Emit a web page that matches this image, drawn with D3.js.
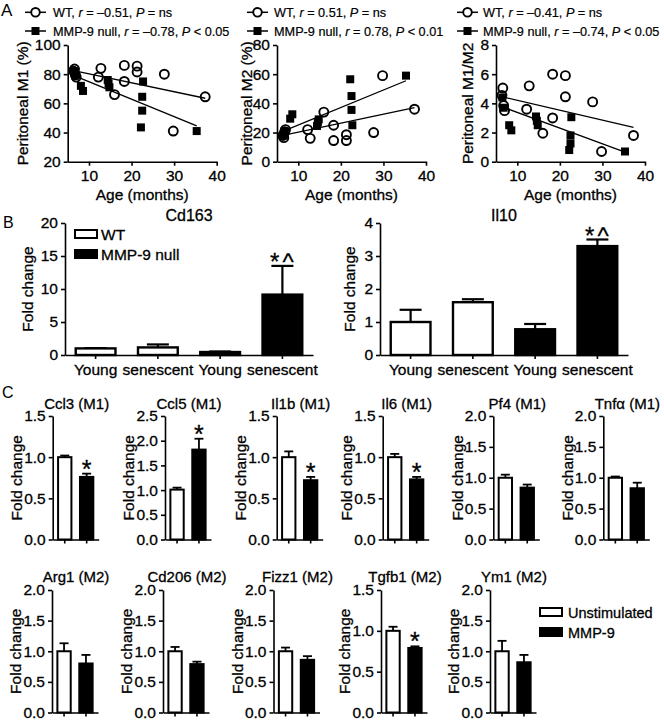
<!DOCTYPE html>
<html><head><meta charset="utf-8">
<script src="https://cdn.jsdelivr.net/npm/d3@7"></script>
<style>body{margin:0;background:#fff}svg{display:block}</style>
</head><body><script>
// ---------- DATA ----------
// Panel A
const ageTicks = [10, 20, 30, 40];
const ageDomain = [5, 40];
const wtAge  = [6.4, 6.6, 6.8, 7.0, 12.2, 12.8, 16.0, 18.3, 18.3, 21.3, 21.3, 27.7, 29.8, 37.3];
const wtM1   = [82, 83.5, 79.5, 78, 78, 84, 66, 86, 75, 85.5, 81.5, 80, 41, 64.5];
const wtM2   = [18, 16.5, 20.5, 22, 22, 16, 34, 14.5, 25, 14.5, 18.5, 20, 59, 36];
const wtRat  = [4.55, 5.05, 3.85, 3.5, 3.6, 5.2, 1.95, 6.0, 3.0, 5.9, 4.45, 4.1, 0.7, 1.8];
const mmpAge = [6.5, 6.8, 8.1, 8.6, 14.4, 14.6, 14.8, 22.2, 22.5, 22.5, 22.7, 35.3];
const mmpM1  = [82, 79, 72, 68.5, 76, 73.5, 71, 43.5, 55, 64.5, 75, 41];
const mmpM2  = [18, 21, 29.5, 32.5, 24.5, 27, 29, 56.5, 45, 35.5, 25, 59];
const mmpRat = [4.4, 3.7, 2.5, 2.15, 3.1, 2.8, 2.5, 0.8, 1.25, 1.8, 3.05, 0.7];
const wtFitM1  = [[6.4, 82.5], [37.3, 63.5]];
const mmpFitM1 = [[6.5, 79], [35.3, 44.5]];
const wtFitM2  = [[6.4, 18], [37.3, 37]];
const mmpFitM2 = [[6.5, 21], [35.3, 55.5]];
const wtFitRat  = [[6.4, 4.45], [37.3, 2.35]];
const mmpFitRat = [[6.5, 3.75], [35.3, 0.65]];
const wtR  = ['–0.51', '0.51', '–0.41'];
const wtP  = ['= ns', '= ns', '= ns'];
const mmpR = ['–0.78', '0.78', '–0.74'];
const mmpP = ['< 0.05', '< 0.01', '< 0.05'];
const m1Ticks = [20, 40, 60, 80, 100];
const m2Ticks = [0, 20, 40, 60, 80];
const ratTicks = [0, 2, 4, 6, 8];

// Panel B
const bGroups = ['Young', 'senescent', 'Young', 'senescent'];
const bGenotype = ['WT', 'WT', 'MMP-9 null', 'MMP-9 null'];
const cd163Mean = [1.0, 1.15, 0.45, 9.15];
const cd163Err  = [0.05, 0.45, 0.08, 4.35];
const il10Mean  = [1.0, 1.6, 0.78, 3.3];
const il10Err   = [0.37, 0.09, 0.16, 0.2];
const cd163Ticks = [0, 5, 10, 15, 20];
const il10Ticks  = [0, 1, 2, 3, 4];
const bSig = [false, false, false, true];

// Panel C
const cGenes   = ['Ccl3 (M1)', 'Ccl5 (M1)', 'Il1b (M1)', 'Il6 (M1)', 'Pf4 (M1)', 'Tnfα (M1)',
                  'Arg1 (M2)', 'Cd206 (M2)', 'Fizz1 (M2)', 'Tgfb1 (M2)', 'Ym1 (M2)'];
const cYMax    = [1.5, 2.5, 1.5, 1.5, 2.0, 2.0, 2.0, 2.0, 2.0, 1.5, 2.0];
const unstimMean = [1.0, 1.01, 1.0, 1.0, 1.0, 1.0, 1.0, 1.0, 1.0, 1.0, 1.0];
const unstimErr  = [0.02, 0.04, 0.07, 0.04, 0.05, 0.02, 0.13, 0.07, 0.06, 0.05, 0.17];
const mmp9Mean   = [0.76, 1.82, 0.72, 0.73, 0.84, 0.83, 0.80, 0.79, 0.86, 0.79, 0.82];
const mmp9Err    = [0.04, 0.22, 0.04, 0.03, 0.05, 0.09, 0.14, 0.04, 0.06, 0.02, 0.12];
const cSig       = [true, true, true, true, false, false, false, false, false, true, false];
const cLegend    = ['Unstimulated', 'MMP-9'];

// ---------- DRAWING ----------
const FONT = '"Liberation Sans", Arial, Helvetica, sans-serif';
const FS = 15.5;
const W = 664, H = 720;
const svg = d3.select('body').append('svg').attr('width', W).attr('height', H);
svg.append('rect').attr('width', W).attr('height', H).attr('fill', '#fff');

function txt(x, y, s, size, anchor = 'start', rot = 0) {
  const t = svg.append('text').attr('x', x).attr('y', y).text(s)
    .attr('font-family', FONT).attr('font-size', size).attr('fill', '#000')
    .attr('stroke', '#000').attr('stroke-width', 0.3)
    .attr('text-anchor', anchor);
  if (rot) t.attr('transform', `rotate(${rot},${x},${y})`);
  return t;
}
function styleAxis(g, fs, sw = 1.6) {
  g.selectAll('path,line').attr('stroke', '#000').attr('stroke-width', sw);
  g.selectAll('text').attr('font-size', fs).attr('font-family', FONT).attr('fill', '#000')
    .attr('stroke', '#000').attr('stroke-width', 0.3);
}

// Panel letters
txt(1, 16, 'A', 17).attr('stroke-width', 0);
txt(3, 228, 'B', 16).attr('stroke-width', 0);
txt(2, 398, 'C', 16).attr('stroke-width', 0);

// ---- Panel A ----
const aX0 = [67.7, 277, 496];
const aTop = 45, aBot = 161.7, aW = 149;
const aYLabX = [23, 247, 468];
const aLegX = [25, 247, 457];
const aTxtX = [53, 274, 483];
const aSets = [
  { dom: [20, 100], ticks: m1Ticks, label: 'Peritoneal M1 (%)', wt: wtM1, mmp: mmpM1, wtFit: wtFitM1, mmpFit: mmpFitM1 },
  { dom: [0, 80], ticks: m2Ticks, label: 'Peritoneal M2 (%)', wt: wtM2, mmp: mmpM2, wtFit: wtFitM2, mmpFit: mmpFitM2 },
  { dom: [0, 8], ticks: ratTicks, label: 'Peritoneal M1/M2', wt: wtRat, mmp: mmpRat, wtFit: wtFitRat, mmpFit: mmpFitRat }
];
aSets.forEach((s, i) => {
  const x0 = aX0[i];
  const x = d3.scaleLinear().domain(ageDomain).range([x0, x0 + aW]);
  const y = d3.scaleLinear().domain(s.dom).range([aBot, aTop]);
  const gx = svg.append('g').attr('transform', `translate(0,${aBot})`)
    .call(d3.axisBottom(x).tickValues(ageTicks).tickSize(4).tickSizeOuter(0).tickPadding(4.5));
  styleAxis(gx, FS);
  const gy = svg.append('g').attr('transform', `translate(${x0},0)`)
    .call(d3.axisLeft(y).tickValues(s.ticks).tickFormat(d3.format('d')).tickSize(4).tickSizeOuter(0).tickPadding(3));
  styleAxis(gy, FS);
  const line = d3.line().x(d => x(d[0])).y(d => y(d[1]));
  [s.wtFit, s.mmpFit].forEach(f => svg.append('path').attr('d', line(f))
    .attr('stroke', '#000').attr('stroke-width', 1.3).attr('fill', 'none'));
  svg.append('g').selectAll('circle').data(wtAge.map((a, j) => [a, s.wt[j]])).join('circle')
    .attr('cx', d => x(d[0])).attr('cy', d => y(d[1])).attr('r', 4.5)
    .attr('fill', 'none').attr('stroke', '#000').attr('stroke-width', 1.9);
  svg.append('g').selectAll('rect').data(mmpAge.map((a, j) => [a, s.mmp[j]])).join('rect')
    .attr('x', d => x(d[0]) - 4).attr('y', d => y(d[1]) - 4).attr('width', 8).attr('height', 8)
    .attr('fill', '#000');
  txt(x0 + aW / 2, 200, 'Age (months)', FS, 'middle');
  txt(aYLabX[i], (aTop + aBot) / 2, s.label, FS, 'middle', -90).attr('dy', '0.35em');
  // legend
  const lx = aLegX[i];
  [12.3, 31].forEach((ly, k) => {
    svg.append('line').attr('x1', lx).attr('x2', lx + 21).attr('y1', ly).attr('y2', ly)
      .attr('stroke', '#000').attr('stroke-width', 1.5);
    if (k === 0) svg.append('circle').attr('cx', lx + 10.5).attr('cy', ly).attr('r', 4.3)
      .attr('fill', '#fff').attr('stroke', '#000').attr('stroke-width', 1.9);
    else svg.append('rect').attr('x', lx + 6.5).attr('y', ly - 4).attr('width', 8).attr('height', 8).attr('fill', '#000');
    const t = txt(aTxtX[i], ly + 4.8, '', 12.7).attr('stroke-width', 0.2);
    const name = k === 0 ? 'WT, ' : 'MMP-9 null, ';
    const r = k === 0 ? wtR[i] : mmpR[i];
    const p = k === 0 ? wtP[i] : mmpP[i];
    t.append('tspan').text(name);
    t.append('tspan').text('r').attr('font-style', 'italic');
    t.append('tspan').text(' = ' + r + ', ');
    t.append('tspan').text('P').attr('font-style', 'italic');
    t.append('tspan').text(' ' + p);
  });
});

// ---- Panel B ----
const bX0 = [65, 380];
const bTop = 223, bBot = 355, bW = 248;
const bSets = [
  { title: 'Cd163', dom: [0, 20], ticks: cd163Ticks, mean: cd163Mean, err: cd163Err, ylx: 28 },
  { title: 'Il10', dom: [0, 4], ticks: il10Ticks, mean: il10Mean, err: il10Err, ylx: 350 }
];
bSets.forEach((s, i) => {
  const x0 = bX0[i];
  const x = d3.scaleBand().domain(d3.range(bGroups.length)).range([x0, x0 + bW])
    .paddingInner(0.323).paddingOuter(0.153);
  const y = d3.scaleLinear().domain(s.dom).range([bBot, bTop]);
  const bw = x.bandwidth();
  s.mean.forEach((m, j) => {
    const isWT = bGenotype[j] === 'WT';
    const cx = x(j) + bw / 2;
    const top = y(m + s.err[j]);
    svg.append('line').attr('x1', cx).attr('x2', cx).attr('y1', y(m)).attr('y2', top)
      .attr('stroke', '#000').attr('stroke-width', 2.2);
    svg.append('line').attr('x1', cx - 11).attr('x2', cx + 11).attr('y1', top).attr('y2', top)
      .attr('stroke', '#000').attr('stroke-width', 2.2);
    svg.append('rect').attr('x', x(j) + 1.2).attr('y', y(m)).attr('width', bw - 2.4)
      .attr('height', bBot - y(m)).attr('fill', isWT ? '#fff' : '#000')
      .attr('stroke', '#000').attr('stroke-width', 2.4);
    if (bSig[j]) txt(cx + 1, top + 4, '*^', 24, 'middle').attr('letter-spacing', 3);
  });
  const gx = svg.append('g').attr('transform', `translate(0,${bBot})`)
    .call(d3.axisBottom(x).tickFormat(j => bGroups[j]).tickSize(4).tickSizeOuter(0).tickPadding(5));
  styleAxis(gx, FS);
  const gy = svg.append('g').attr('transform', `translate(${x0},0)`)
    .call(d3.axisLeft(y).tickValues(s.ticks).tickFormat(d3.format('d')).tickSize(4).tickSizeOuter(0).tickPadding(3));
  styleAxis(gy, FS);
  txt(x0 + bW / 2, 221, s.title, 16, 'middle');
  txt(s.ylx, (bTop + bBot) / 2, 'Fold change', FS, 'middle', -90).attr('dy', '0.35em');
});
// B legend
['WT', 'MMP-9 null'].forEach((name, k) => {
  const ly = 230 + k * 20;
  svg.append('rect').attr('x', 75).attr('y', ly).attr('width', 22).attr('height', 8)
    .attr('fill', k === 0 ? '#fff' : '#000').attr('stroke', '#000').attr('stroke-width', 2);
  txt(101, ly + 9.5, name, 15.5);
});

// ---- Panel C ----
const cColX = [[52.7, 165, 276.7, 382.7, 493.3, 603.3], [52, 163, 273.5, 381, 490]];
const cRowY = [[416, 539.5], [590, 712.5]];
const cW = 46;
cGenes.forEach((gname, i) => {
  const row = i < 6 ? 0 : 1;
  const col = i < 6 ? i : i - 6;
  const x0 = cColX[row][col];
  const [top, bot] = cRowY[row];
  const x = d3.scaleBand().domain(cLegend).range([x0, x0 + cW]).paddingInner(0.3).paddingOuter(0.2);
  const y = d3.scaleLinear().domain([0, cYMax[i]]).range([bot, top]);
  const bw = x.bandwidth();
  const vals = [[unstimMean[i], unstimErr[i]], [mmp9Mean[i], mmp9Err[i]]];
  vals.forEach(([m, e], j) => {
    const key = cLegend[j];
    const cx = x(key) + bw / 2;
    const et = y(m + e);
    svg.append('line').attr('x1', cx).attr('x2', cx).attr('y1', y(m)).attr('y2', et)
      .attr('stroke', '#000').attr('stroke-width', 1.8);
    svg.append('line').attr('x1', cx - 4.5).attr('x2', cx + 4.5).attr('y1', et).attr('y2', et)
      .attr('stroke', '#000').attr('stroke-width', 1.8);
    svg.append('rect').attr('x', x(key) + 1).attr('y', y(m)).attr('width', bw - 2)
      .attr('height', bot - y(m)).attr('fill', j === 0 ? '#fff' : '#000')
      .attr('stroke', '#000').attr('stroke-width', 2);
    if (j === 1 && cSig[i]) txt(cx, et + 4, '*', 25, 'middle');
  });
  const gx = svg.append('g').attr('transform', `translate(0,${bot})`)
    .call(d3.axisBottom(x).tickFormat('').tickSize(4).tickSizeOuter(0));
  styleAxis(gx, FS);
  const gy = svg.append('g').attr('transform', `translate(${x0},0)`)
    .call(d3.axisLeft(y).tickValues(d3.range(0, cYMax[i] + 0.001, 0.5)).tickFormat(d3.format('.1f'))
      .tickSize(4).tickSizeOuter(0).tickPadding(3));
  styleAxis(gy, FS);
  txt(x0 + cW / 2 + 1, top - (row === 0 ? 7 : 8.5), gname, 15, 'middle');
  txt(x0 - 36, (top + bot) / 2, 'Fold change', FS, 'middle', -90).attr('dy', '0.35em');
});
// C legend
cLegend.forEach((name, k) => {
  const ly = 608 + k * 20;
  svg.append('rect').attr('x', 540).attr('y', ly).attr('width', 22).attr('height', 8)
    .attr('fill', k === 0 ? '#fff' : '#000').attr('stroke', '#000').attr('stroke-width', 2);
  txt(568, ly + 9.5, name, 14.5);
});
</script></body></html>
